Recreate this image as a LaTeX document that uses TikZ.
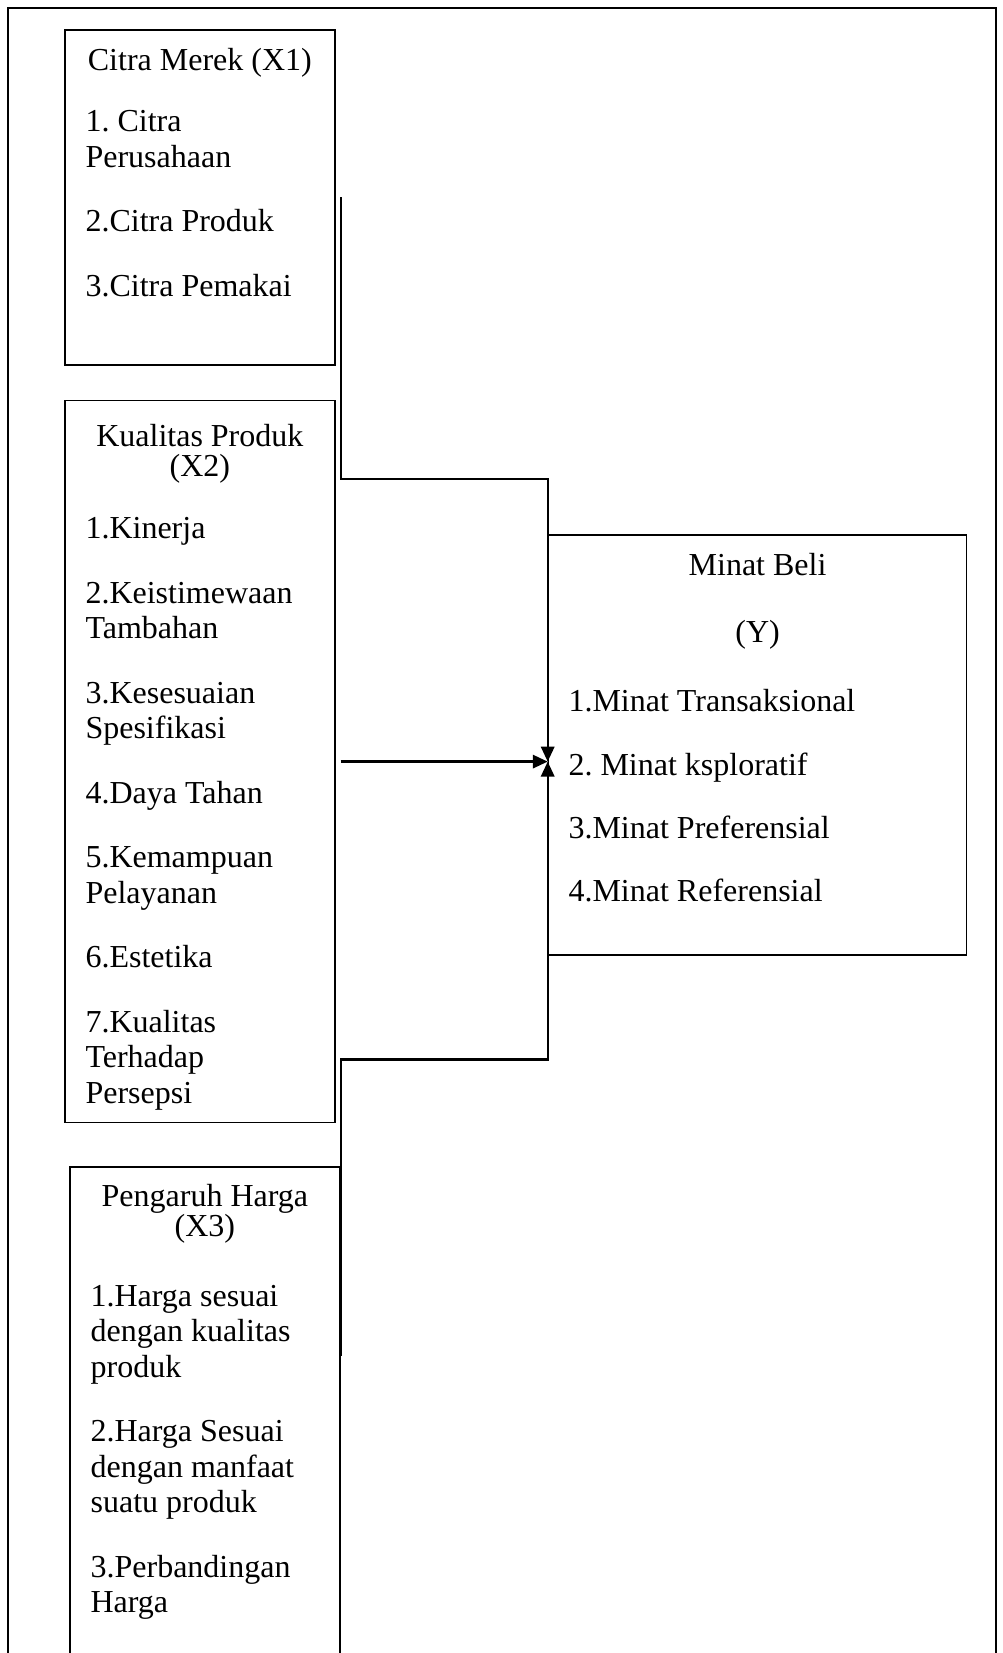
\documentclass[tikz,border=0pt]{standalone}
\usepackage{fontspec}
\setmainfont{Liberation Serif}
\usetikzlibrary{arrows.meta, positioning, calc}
\newcommand{\px}{0.375pt}

\begin{document}
\frenchspacing
\begin{tikzpicture}[
        x=0.375pt, y=-0.375pt,
        varbox/.style={rectangle, draw, line width=0.65pt, minimum width=270*\px, inner sep=0pt},
        boxtitle/.style={anchor=base, align=flush center, text width=250*\px, inner sep=0pt, font=\fontsize{12pt}{11.25pt}\selectfont},
        boxlist/.style={anchor=base west, align=flush left, text width=245*\px, inner sep=0pt, font=\fontsize{12pt}{13.25pt}\selectfont},
        link/.style={line width=0.85pt},
        arrow/.style={link, -{Triangle[length=5.6pt, width=5pt]}}
    ]
        \useasboundingbox (0,0) rectangle (1003,1653);
        \clip (0,0) rectangle (1003,1653);
        % outer frame, open at the bottom
        \draw[line width=0.65pt] (8,1670) -- (8,8) -- (996,8) -- (996,1670);

        % Citra Merek
        \node[varbox, minimum height=335*\px, anchor=north west] (merek) at (64,29) {};
        \node[boxtitle] (merekT) at ($(merek.north)+(0,41)$) {Citra Merek (X1)};
        \node[boxlist] (merekL) at ($(merek.north west)+(21,102.7)$)
            {1. Citra\\Perusahaan\\[11pt]2.Citra Produk\\[11pt]3.Citra Pemakai};

        % Kualitas Produk
        \node[varbox, minimum height=722*\px, below=12.75pt of merek] (kualitas) {};
        \node[boxtitle] (kualitasT) at ($(kualitas.north)+(0,47)$) {Kualitas Produk\\(X2)};
        \node[boxlist] (kualitasL) at ($(kualitas.north west)+(21,138.7)$)
            {1.Kinerja\\[11pt]2.Keistimewaan\\Tambahan\\[11pt]3.Kesesuaian\\Spesifikasi\\[11pt]4.Daya Tahan\\[11pt]%
             5.Kemampuan\\Pelayanan\\[11pt]6.Estetika\\[11pt]7.Kualitas\\Terhadap\\Persepsi};

        % Pengaruh Harga
        \node[varbox, minimum height=560*\px, below=16.1pt of kualitas, xshift=1.9pt] (harga) {};
        \node[boxtitle] (hargaT) at ($(harga.north)+(0,40)$) {Pengaruh Harga\\(X3)};
        \node[boxlist] (hargaL) at ($(harga.north west)+(21,140)$)
            {1.Harga sesuai\\dengan kualitas\\produk\\[11pt]2.Harga Sesuai\\dengan manfaat\\suatu produk\\[11pt]3.Perbandingan\\Harga};

        % Minat Beli
        \node[varbox, minimum width=418*\px, minimum height=420*\px, anchor=north west] (minat) at (547.7,534) {};
        \node[boxtitle] (minatT) at ($(minat.north)+(0,41)$) {Minat Beli\\[14.2pt](Y)};
        \node[boxlist, text width=380*\px] (minatL) at ($(minat.north west)+(20.3,177.7)$)
            {1.Minat Transaksional\\[10.5pt]2. Minat ksploratif\\[10.5pt]3.Minat Preferensial\\[10.5pt]4.Minat Referensial};

        % connectors
        \coordinate (meet) at (kualitas.east -| minat.west);
        \coordinate (merekS) at ($(merek.east)+(5,0)$);
        \coordinate (merekB) at ($(merek.east)+(5,281.5)$);
        \coordinate (hargaS) at ($(harga.north east)+(0,190)$);
        \coordinate (hargaB) at ($(harga.north east)+(0,-107)$);
        \draw[arrow] (merekS) -- (merekB) -| (meet);
        \draw[arrow] ($(kualitas.east)+(5,0)$) -- (meet);
        \draw[arrow] (hargaS) -- (hargaB) -| (meet);
\end{tikzpicture}
\end{document}
